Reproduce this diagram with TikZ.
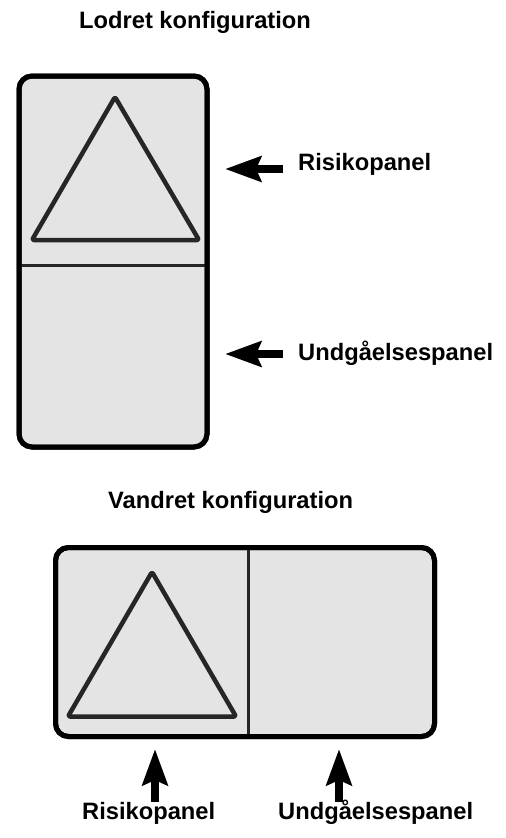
\documentclass[tikz,border=0pt]{standalone}
\usepackage{fontspec}
\setmainfont{Liberation Sans}
\usetikzlibrary{arrows.meta}
\definecolor{panelgray}{HTML}{E4E4E4}
\tikzset{
  panelbox/.style={draw=black, fill=panelgray, line width=5pt, rounded corners=13pt},
  divider/.style={draw=black!85, line width=3pt},
  warntri/.style={draw=black!85, line width=4.5pt, line join=round, rounded corners=2pt},
  fatarrow/.style={line width=8.5pt, -{Stealth[length=36pt, width=25pt, inset=5pt]}},
  lbl/.style={font=\bfseries\fontsize{23.7}{26}\selectfont, inner sep=0pt, anchor=base west},
}
\begin{document}
\begin{tikzpicture}[x=1pt, y=-1pt]
\useasboundingbox (0,0) rectangle (506,838);
% titles
\node[lbl] (t1) at (79,28) {Lodret konfiguration};
\node[lbl] (t2) at (108,508) {Vandret konfiguration};
% vertical configuration
\path[panelbox] (19,76) rectangle (207,447);
\draw[divider] (19,265) -- (207,265);
\draw[warntri] (115,97) -- (199,240) -- (32,240) -- cycle;
\draw[panelbox, fill=none] (19,76) rectangle (207,447);
\coordinate (vt1) at (225,169);
\coordinate (vs1) at (283,169);
\coordinate (vt2) at (225,354);
\coordinate (vs2) at (283,354);
\draw[fatarrow] (vs1) -- (vt1);
\draw[fatarrow] (vs2) -- (vt2);
\node[lbl] (vr) at (298,170) {Risikopanel};
\node[lbl] (vu) at (298,360) {Undgåelsespanel};
% horizontal configuration
\path[panelbox] (55.5,547.5) rectangle (434.5,736.5);
\draw[divider] (248,547.5) -- (248,736.5);
\draw[warntri] (152,572) -- (236,716.5) -- (68,716.5) -- cycle;
\draw[panelbox, fill=none] (55.5,547.5) rectangle (434.5,736.5);
\coordinate (ht1) at (155,749);
\coordinate (hs1) at (155,802);
\coordinate (ht2) at (339,749);
\coordinate (hs2) at (339,802);
\draw[fatarrow] (hs1) -- (ht1);
\draw[fatarrow] (hs2) -- (ht2);
\node[lbl] (hr) at (82,819) {Risikopanel};
\node[lbl] (hu) at (278,819) {Undgåelsespanel};
\end{tikzpicture}
\end{document}
